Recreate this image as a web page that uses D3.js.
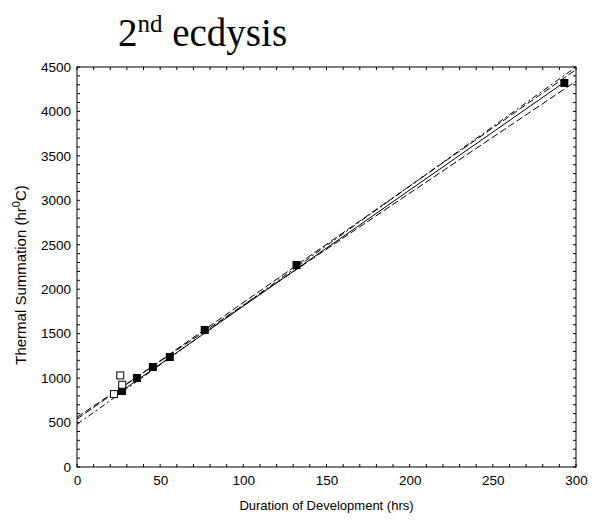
<!DOCTYPE html>
<html><head><meta charset="utf-8">
<script src="https://cdn.jsdelivr.net/npm/d3@7"></script>
<style>body{margin:0;background:#fff}svg{display:block}</style>
</head><body>
<script>
// Data
const filledX = [27, 36, 45.6, 55.8, 76.8, 132, 293];
const filledY = [855, 1001, 1125, 1237, 1541, 2272, 4320];
const openX = [26, 27.2, 22.2];
const openY = [1030, 925, 820];
// Fitted lines: [x0, x1, intercept, slope, style]
const lineNames = ["solid", "dashedA", "dashedB", "dashdot"];
const lineX0 = [24, 0, 0, 0];
const lineX1 = [293, 300, 300, 300];
const lineIntercept = [505, 540, 560, 480];
const lineSlope = [13.05, 13.1, 12.6, 13.4];
const xTicks = [0, 50, 100, 150, 200, 250, 300];
const yTicks = [0, 500, 1000, 1500, 2000, 2500, 3000, 3500, 4000, 4500];

const W = 613, H = 523;
const m = {l: 77, r: 37, t: 67, b: 56};
const svg = d3.select("body").append("svg").attr("width", W).attr("height", H);
const x = d3.scaleLinear().domain([0, 300]).range([m.l, W - m.r]);
const y = d3.scaleLinear().domain([0, 4500]).range([H - m.b, m.t]);

svg.append("defs").append("clipPath").attr("id", "clip").append("rect")
  .attr("x", m.l).attr("y", m.t).attr("width", x(300) - m.l).attr("height", y(0) - m.t);

// Title
const title = svg.append("text").attr("x", 118).attr("y", 46)
  .attr("font-family", "Liberation Serif, Times New Roman, serif").attr("font-size", 39).attr("fill", "#000");
title.append("tspan").text("2");
title.append("tspan").attr("font-size", 25).attr("dy", -14).text("nd");
title.append("tspan").attr("dy", 14).text(" ecdysis");

const font = "Liberation Sans, Arial, sans-serif";
// Axes with minor ticks (inward)
const minorX = d3.range(0, 301, 10), minorY = d3.range(0, 4501, 100);
const g = svg.append("g").attr("stroke", "#000").attr("stroke-width", 1);
function tickLines(vals, orient, len) {
  vals.forEach(v => {
    if (orient === "b") g.append("line").attr("x1", x(v)).attr("x2", x(v)).attr("y1", y(0)).attr("y2", y(0) - len);
    if (orient === "t") g.append("line").attr("x1", x(v)).attr("x2", x(v)).attr("y1", y(4500)).attr("y2", y(4500) + len);
    if (orient === "l") g.append("line").attr("x1", x(0)).attr("x2", x(0) + len).attr("y1", y(v)).attr("y2", y(v));
    if (orient === "r") g.append("line").attr("x1", x(300)).attr("x2", x(300) - len).attr("y1", y(v)).attr("y2", y(v));
  });
}
["b", "t"].forEach(o => tickLines(minorX, o, 3));
["l", "r"].forEach(o => tickLines(minorY, o, 3));
g.append("rect").attr("x", m.l).attr("y", m.t).attr("width", x(300) - m.l).attr("height", y(0) - m.t)
  .attr("fill", "none");

// tick labels via d3 axes
const xAxis = svg.append("g").attr("transform", `translate(0,${y(0)})`)
  .call(d3.axisBottom(x).tickValues(xTicks).tickSize(0).tickPadding(8).tickFormat(d3.format("d")));
const yAxis = svg.append("g").attr("transform", `translate(${x(0)},0)`)
  .call(d3.axisLeft(y).tickValues(yTicks).tickSize(0).tickPadding(6).tickFormat(d3.format("d")));
[xAxis, yAxis].forEach(a => {
  a.select(".domain").remove();
  a.selectAll("text").attr("font-family", font).attr("font-size", 13.5).attr("fill", "#000");
});

// axis titles
svg.append("text").attr("x", (x(0) + x(300)) / 2).attr("y", 510).attr("text-anchor", "middle")
  .attr("font-family", font).attr("font-size", 13).attr("fill", "#000").text("Duration of Development (hrs)");
const yl = svg.append("text").attr("transform", `translate(26,${(y(0) + y(4500)) / 2 + 8}) rotate(-90)`)
  .attr("text-anchor", "middle").attr("font-family", font).attr("font-size", 15).attr("fill", "#000");
yl.append("tspan").text("Thermal Summation (hr");
yl.append("tspan").attr("font-size", 11).attr("dy", -6).text("0");
yl.append("tspan").attr("dy", 6).text("C)");

// lines
const dashes = {solid: null, dashedA: "7,3", dashedB: "7,3", dashdot: "6,3,2,3"};
const lg = svg.append("g").attr("clip-path", "url(#clip)");
lineNames.forEach((n, i) => {
  lg.append("line")
    .attr("x1", x(lineX0[i])).attr("y1", y(lineIntercept[i] + lineSlope[i] * lineX0[i]))
    .attr("x2", x(lineX1[i])).attr("y2", y(lineIntercept[i] + lineSlope[i] * lineX1[i]))
    .attr("stroke", "#000").attr("stroke-width", 1).attr("stroke-dasharray", dashes[n]);
});

// points
const s = 8;
svg.append("g").selectAll("rect").data(filledX.map((v, i) => [v, filledY[i]])).join("rect")
  .attr("x", d => x(d[0]) - s / 2).attr("y", d => y(d[1]) - s / 2).attr("width", s).attr("height", s).attr("fill", "#000");
svg.append("g").selectAll("rect").data(openX.map((v, i) => [v, openY[i]])).join("rect")
  .attr("x", d => x(d[0]) - 3.5).attr("y", d => y(d[1]) - 3.5).attr("width", 7).attr("height", 7)
  .attr("fill", "#fff").attr("stroke", "#000").attr("stroke-width", 1);
</script>
</body></html>
